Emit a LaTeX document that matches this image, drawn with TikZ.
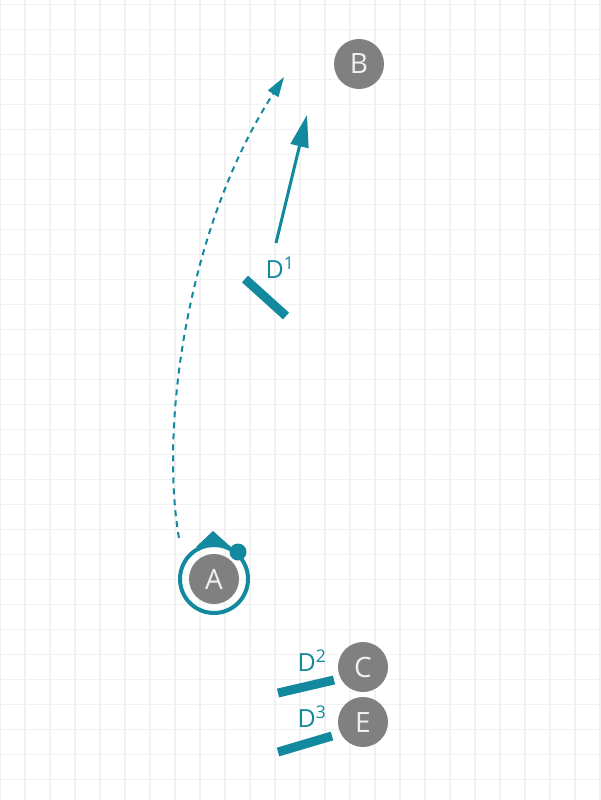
\documentclass[tikz,border=0pt]{standalone}
\usepackage{fontspec}
\setmainfont{Open Sans}
\usetikzlibrary{arrows.meta}
\definecolor{teal}{RGB}{18,137,158}
\definecolor{circgray}{RGB}{128,128,128}
\definecolor{gridc}{RGB}{240,241,241}
\definecolor{letterc}{RGB}{240,240,240}
\tikzset{
  gridline/.style={draw=gridc,line width=1.6pt},
  station/.style={circle,fill=circgray,minimum size=50pt,inner sep=0pt,text=letterc,font=\fontsize{28}{30}\selectfont},
  dlabel/.style={text=teal,inner sep=0pt,font=\fontsize{25}{27}\selectfont},
  bar/.style={draw=teal,line width=9pt},
  solidarrow/.style={draw=teal,line width=3pt,-{Triangle[length=32pt,width=18pt]}},
  dasharrow/.style={draw=teal,line width=2pt,dash pattern=on 6pt off 5pt,-{Triangle[length=20pt,width=12pt]}}
}
\begin{document}
\begin{tikzpicture}[x=1pt,y=-1pt]
\useasboundingbox (0,0) rectangle (600,800);
\fill[white] (0,0) rectangle (600,800);
\foreach \i in {0,25,...,600} \draw[gridline] (\i,0) -- (\i,800);
\foreach \k in {0,...,31} \draw[gridline] (0,{4.5+25*\k}) -- (600,{4.5+25*\k});

% stations
\node[station] (A) at (214,579) {A};
\node[station] (B) at (359,64) {B};
\node[station] (C) at (363,667) {C};
\node[station] (E) at (363,722) {E};

% ring around A with pointer and dot
\draw[teal,line width=4pt] (A.center) circle (34);
\fill[teal] (213,531) -- (196,547) -- (231,547) -- cycle;
\fill[teal] (238,552) circle (8.5);

% labels
\node[dlabel] (D1) at (280,268) {D\textsuperscript{1}};
\node[dlabel] (D2) at (312,661) {D\textsuperscript{2}};
\node[dlabel] (D3) at (312,717) {D\textsuperscript{3}};

% bars
\draw[bar] (245,279) -- (286,316);
\draw[bar] (278,693) -- (334,680);
\draw[bar] (278,752) -- (332,736);

% arrows
\coordinate (s1) at (276,243);
\coordinate (t1) at (307,115);
\draw[solidarrow] (s1) -- (t1);

\coordinate (s2) at (179,538);
\coordinate (t2) at (284,77);
\draw[dasharrow] (s2) .. controls (160,430) and (185,230) .. (t2);
\end{tikzpicture}
\end{document}
